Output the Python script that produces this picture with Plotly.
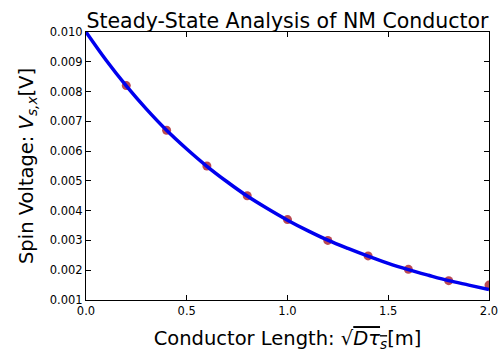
import plotly.graph_objects as go

# Analytic curve
line_x = [0.0, 0.1, 0.2, 0.3, 0.4, 0.5, 0.6, 0.7, 0.8, 0.9, 1.0,
          1.1, 1.2, 1.3, 1.4, 1.5, 1.6, 1.7, 1.8, 1.9, 2.0]
line_v = [0.01000, 0.00905, 0.00819, 0.00741, 0.00670, 0.00607, 0.00549,
          0.00497, 0.00449, 0.00407, 0.00368, 0.00333, 0.00301, 0.00273,
          0.00247, 0.00223, 0.00202, 0.00183, 0.00165, 0.00150, 0.00135]

# Numerical points
pts_x = [0.2, 0.4, 0.6, 0.8, 1.0, 1.2, 1.4, 1.6, 1.8, 2.0]
pts_v = [0.00820, 0.00670, 0.00550, 0.00450, 0.00370, 0.00300,
         0.00248, 0.00203, 0.00165, 0.00150]

x_ticks = [0.0, 0.5, 1.0, 1.5, 2.0]
y_ticks = [0.001, 0.002, 0.003, 0.004, 0.005, 0.006, 0.007, 0.008, 0.009, 0.010]

fig = go.Figure()
fig.add_trace(go.Scatter(x=pts_x, y=pts_v, mode="markers",
                         marker=dict(size=9, color="rgba(170,30,40,0.8)", line=dict(width=0)),
                         cliponaxis=True, showlegend=False))
fig.add_trace(go.Scatter(x=line_x, y=line_v, mode="lines",
                         line=dict(color="#0000ee", width=3.5, shape="spline"),
                         cliponaxis=True, showlegend=False))

axis_common = dict(showline=True, linecolor="black", linewidth=1.2, mirror="allticks",
                   ticks="inside", ticklen=5, tickwidth=1, tickcolor="black",
                   showgrid=False, zeroline=False, automargin=False,
                   tickfont=dict(family="DejaVu Sans", size=11.5, color="black"))

fig.update_layout(
    width=503, height=353,
    margin=dict(l=86, r=14, t=32, b=53),
    paper_bgcolor="white", plot_bgcolor="white",
    font=dict(family="DejaVu Sans", color="black"),
    title=dict(text="Steady-State Analysis of NM Conductor",
               x=(86 + 489) / 2 / 503, xanchor="center",
               y=1 - 28 / 353, yanchor="bottom",
               font=dict(family="DejaVu Sans", size=20.5, color="black")),
    xaxis=dict(range=[0, 2.0], tickvals=x_ticks,
               ticktext=[f"{v:.1f}" for v in x_ticks],
               title=dict(text="Conductor Length: √<span style='text-decoration:overline'><i>Dτ</i><sub><i>s</i></sub></span>[m]",
                          font=dict(size=19.5), standoff=14),
               **axis_common),
    yaxis=dict(range=[0.001, 0.010], tickvals=y_ticks,
               ticktext=[f"{v:.3f}" for v in y_ticks],
               title=dict(text="Spin Voltage: <i>V</i><sub><i>s,x</i></sub>[V]",
                          font=dict(size=19.5), standoff=10),
               **axis_common),
)

fig.write_html("out.html")
